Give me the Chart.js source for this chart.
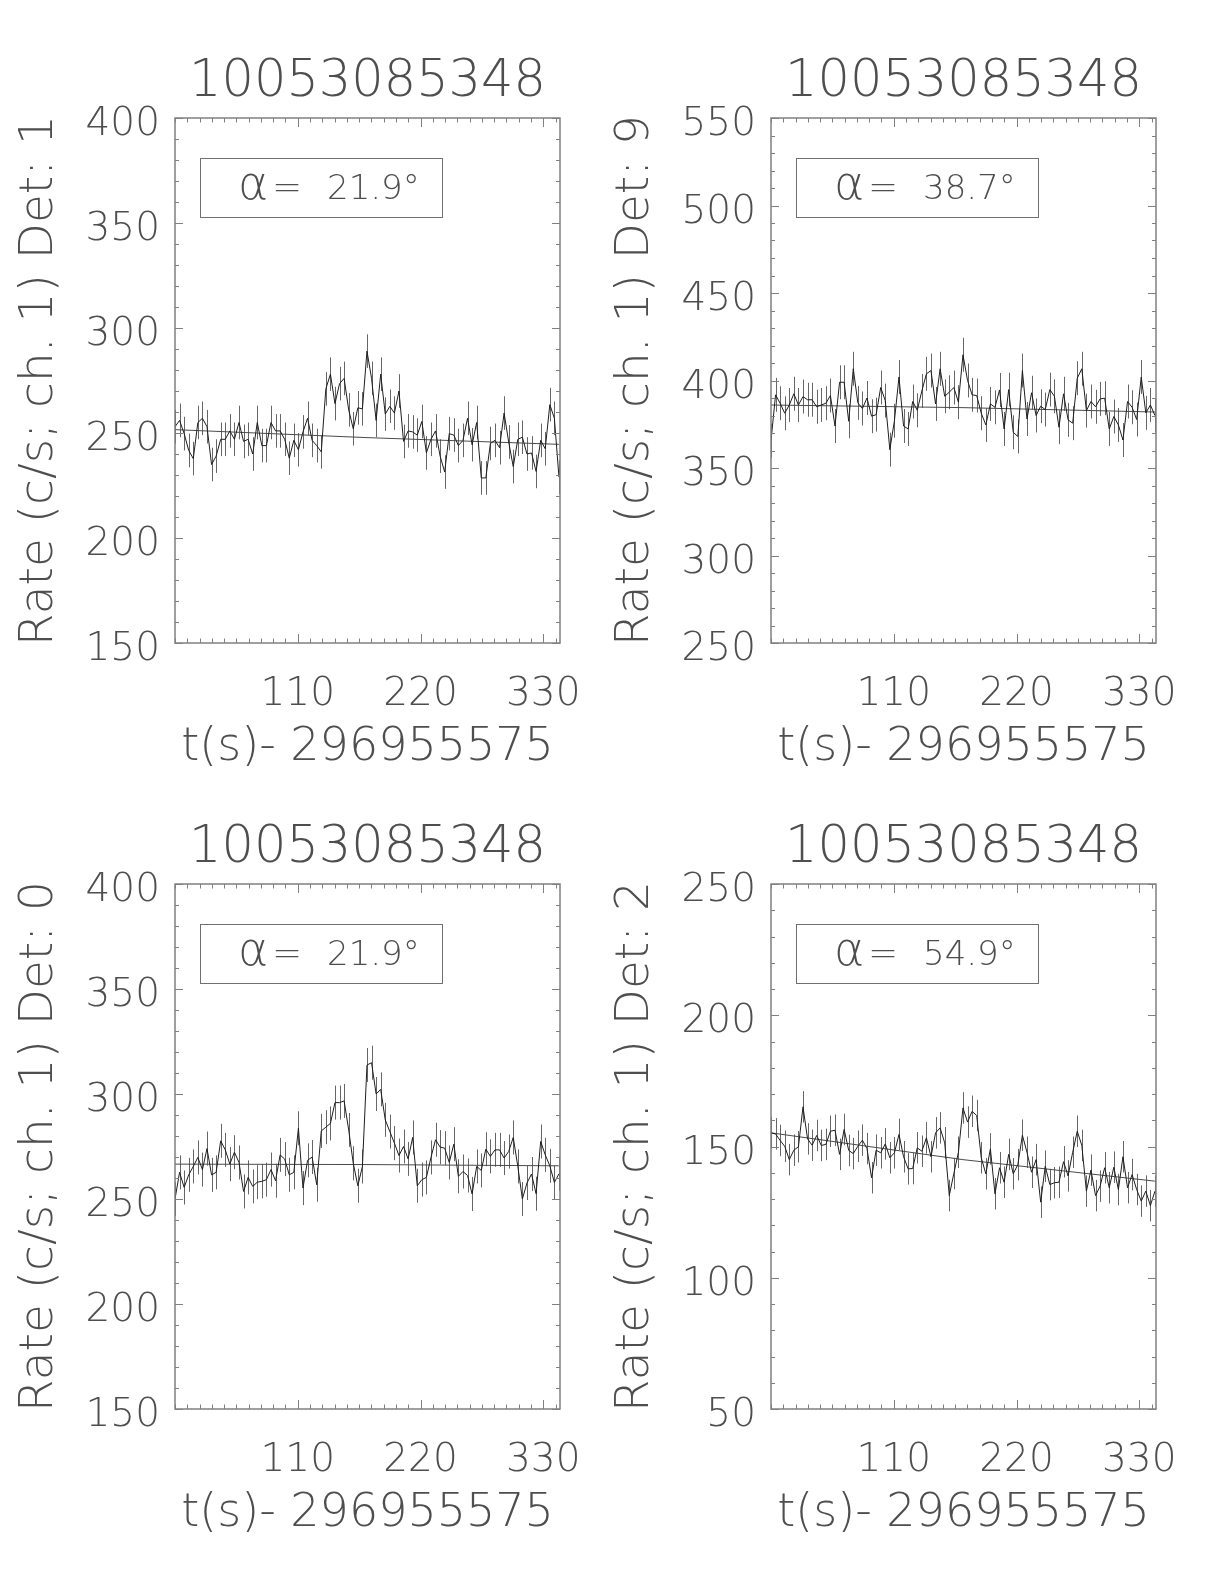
<!DOCTYPE html>
<html>
<head>
<meta charset="utf-8">
<script src="https://cdn.jsdelivr.net/npm/chart.js@4.4.1/dist/chart.umd.min.js"></script>
<style>
  body { margin: 0; background: #fff; }
  #wrap { position: relative; width: 1224px; height: 1584px; }
  canvas { position: absolute; }
</style>
</head>
<body>
<div id="wrap">
  <canvas id="det1" width="600" height="766" style="left:0;top:0"></canvas>
  <canvas id="det9" width="600" height="766" style="left:596px;top:0"></canvas>
  <canvas id="det0" width="600" height="766" style="left:0;top:766px"></canvas>
  <canvas id="det2" width="600" height="766" style="left:596px;top:766px"></canvas>
</div>
<script>
// ---- data ----
var burstName = "10053085348";
var tOffset = "296955575";
var binWidth = 4.096;            // s per bin, 85 bins
var xTickLabels = [110, 220, 330];

var rateDet1 = [253,256,249.7,241.7,237.8,255,257,253,235,239,
  247,247,251,247,255,246,247,240,255,244,
  244,255,251,251,247,238,246.5,242,250.5,257,
  246.5,244,241,271,278,264,273.5,276,261,252,
  262,261.5,289,276,256,278,259,262.7,259.5,270,
  246,251,250.5,249,255.5,240.5,247,251,239,231.4,
  249.7,249,244,246.5,257,244.4,255,228.6,228.6,245,
  246.5,243,259.5,245.7,234,247,248,240,240.5,231.7,
  246.5,242.5,263.5,257,229];
var rateDet9 = [365.6,391.8,387,381.3,386,392.4,386,390.8,389,389,
  385,386,387,391.4,374,399,399,376.7,406.7,387.2,
  384,390,379.6,380.5,396,388.5,360.5,377,402,374,
  372.3,388,383,394,403.8,405.7,386.6,406.7,391,393.3,
  396,387.6,414.7,400,391.8,391.4,381.3,374.6,386.6,384.7,
  394.6,372.3,394.8,370.4,368,405.7,378,393,380,385.3,
  383.4,394.8,391,373.3,392.4,377.5,375.6,401.3,406.7,382.8,
  388,385,389.5,389.9,372.3,379.4,374.6,366,388,384.7,
  377.7,402,381.5,386,380];
var rateDet0 = [250,262.7,255.5,261.5,265.5,269.8,264,274,261.5,262.7,
  277.7,273.4,266.6,272.3,267.4,253.6,260.3,256,258,258.4,
  259.2,264,258.7,271,269,261.5,262.7,283.7,255.2,268.4,
  270,256.8,282.4,284.2,286,295.9,295.9,296.7,282.9,267,
  256.3,265.5,313.8,314.9,300,302.2,287.7,282.1,276.6,270.7,
  275,269.1,279.3,256.3,259.2,260.3,269.8,278.2,274.7,274.2,
  267.4,276.1,260.8,263.1,261.2,252.4,265.5,263.6,273.7,270.3,
  273.4,273.4,269.5,272.6,279.3,265.5,250,257.6,261.9,252.5,
  277.4,271,265.8,257.9,262];
var rateDet2 = [155.2,154.8,152.3,150.1,145,148.6,149.9,165.1,152.9,150.5,
  154.2,150.4,150.8,155.8,156.2,147,156.5,148.5,147.3,150.1,
  152.4,149.2,138.1,148.6,147.6,151,145.7,147.6,154.6,146.1,
  141.5,141.6,149.5,148.2,153.3,146.1,155.2,157.1,151.4,131.3,
  139.7,147.8,164.7,159.3,163.4,161.8,145.7,139.6,149.1,132,
  141.9,136.4,147,139.6,143.1,154.3,147.8,140.2,145,128.8,
  142.5,135.5,136.2,136.4,144.2,138.8,147.8,155.8,150.4,133,
  141,131.3,134.9,141.9,134.3,142.1,133.6,146.1,134.3,139.3,
  133.6,129.2,133,127.5,133];

// background fit, sampled at start / middle / end
var bgTimes = [0, 172, 344];
var bgDet1 = [251.6, 247.8, 244.6];
var bgDet9 = [386, 384.5, 382];
var bgDet0 = [266.6, 266.4, 265.8];
var bgDet2 = [155.2, 145, 136.8];

// half length of the error bars (c/s)
var errDet1 = 8, errDet9 = 9.7, errDet0 = 8.1, errDet2 = 6;

var alphaDet1 = "21.9", alphaDet9 = "38.7", alphaDet0 = "21.9", alphaDet2 = "54.9";
var yRangeDet1 = [150, 400], yRangeDet9 = [250, 550], yRangeDet0 = [150, 400], yRangeDet2 = [50, 250];

// ---- drawing ----
var FONT = '"DejaVu Sans", sans-serif';
var TXT = '#4e4e4e';
var AXIS = '#808080';

var idlPlugin = {
  id: 'idl',
  beforeDatasetsDraw: function (chart, args, opts) {
    var ctx = chart.ctx, a = chart.chartArea, x = chart.scales.x, y = chart.scales.y;
    ctx.save();
    ctx.beginPath();
    ctx.rect(a.left, a.top, a.right - a.left, a.bottom - a.top);
    ctx.clip();
    ctx.strokeStyle = '#666';
    ctx.lineWidth = 1;
    ctx.beginPath();
    chart.data.datasets[0].data.forEach(function (p) {
      var px = Math.round(x.getPixelForValue(p.x)) + 0.5;
      ctx.moveTo(px, y.getPixelForValue(p.y - opts.err));
      ctx.lineTo(px, y.getPixelForValue(p.y + opts.err));
    });
    ctx.stroke();
    ctx.restore();
  },
  afterDraw: function (chart, args, opts) {
    var ctx = chart.ctx, a = chart.chartArea, x = chart.scales.x, y = chart.scales.y;
    ctx.save();
    ctx.strokeStyle = AXIS;
    ctx.lineWidth = 1.5;
    ctx.strokeRect(a.left, a.top, a.right - a.left, a.bottom - a.top);
    ctx.lineWidth = 1;
    ctx.beginPath();
    x.ticks.forEach(function (t) {
      var px = Math.round(x.getPixelForValue(t.value)) + 0.5;
      var len = t.label !== '' ? 9 : 4.5;
      ctx.moveTo(px, a.bottom); ctx.lineTo(px, a.bottom - len);
      ctx.moveTo(px, a.top); ctx.lineTo(px, a.top + len);
    });
    y.ticks.forEach(function (t) {
      var py = Math.round(y.getPixelForValue(t.value)) + 0.5;
      var len = t.label !== '' ? 8 : 4;
      ctx.moveTo(a.left, py); ctx.lineTo(a.left + len, py);
      ctx.moveTo(a.right, py); ctx.lineTo(a.right - len, py);
    });
    ctx.stroke();

    // alpha box
    var bx = a.left + 25, by = a.top + 40;
    ctx.strokeStyle = '#707070';
    ctx.strokeRect(bx + 0.5, by + 0.5, 242, 59);
    ctx.fillStyle = TXT;
    ctx.textBaseline = 'middle';
    ctx.textAlign = 'left';
    ctx.font = '200 46px ' + FONT;
    ctx.fillText('α', bx + 38, by + 29);
    ctx.font = '200 36px ' + FONT;
    ctx.fillText('=', bx + 72, by + 32);
    ctx.font = '200 34px ' + FONT;
    ctx.fillText(opts.alpha + '°', bx + 127, by + 32);
    ctx.restore();
  }
};

function rateChart(id, det, rates, bg, err, alpha, yRange) {
  var pts = rates.map(function (v, i) { return { x: i * binWidth, y: v }; });
  var bgPts = bg.map(function (v, i) { return { x: bgTimes[i], y: v }; });
  new Chart(document.getElementById(id).getContext('2d'), {
    type: 'line',
    data: {
      datasets: [
        { data: pts, borderColor: '#1e1e1e', borderWidth: 1, pointRadius: 0, tension: 0 },
        { data: bgPts, borderColor: '#4a4a4a', borderWidth: 1, pointRadius: 0, tension: 0 }
      ]
    },
    options: {
      responsive: false,
      animation: false,
      layout: { padding: { top: 0, right: 40, left: 0, bottom: 0 } },
      plugins: {
        legend: { display: false },
        tooltip: { enabled: false },
        title: {
          display: true, text: burstName, fullSize: false, color: TXT,
          font: { family: FONT, size: 51, weight: '200', lineHeight: 1 },
          padding: { top: 57, bottom: 10 }
        },
        idl: { err: err, alpha: alpha }
      },
      scales: {
        x: {
          type: 'linear', min: 0, max: 345,
          grid: { display: false, drawTicks: false, tickLength: 0 },
          border: { display: false },
          ticks: {
            stepSize: 11, includeBounds: false, autoSkip: false, maxRotation: 0,
            color: TXT, padding: 28,
            font: { family: FONT, size: 39, weight: '200', lineHeight: 1.2 },
            callback: function (v) { return xTickLabels.indexOf(v) >= 0 ? String(v) : ''; }
          },
          title: {
            display: true, text: 't(s)- ' + tOffset, color: TXT,
            font: { family: FONT, size: 46, weight: '200', lineHeight: 1 },
            padding: { top: 0, bottom: -5 }
          },
          afterFit: function (s) { s.height = 123; }
        },
        y: {
          min: yRange[0], max: yRange[1],
          grid: { display: false, drawTicks: false, tickLength: 0 },
          border: { display: false },
          ticks: {
            stepSize: 10, autoSkip: false, color: TXT, padding: 15, labelOffset: 7,
            font: { family: FONT, size: 39, weight: '200' },
            callback: function (v) { return v % 50 === 0 ? String(v) : ''; }
          },
          title: {
            display: true, text: 'Rate (c/s; ch. 1) Det: ' + det, color: TXT,
            font: { family: FONT, size: 47, weight: '200', lineHeight: 1 },
            padding: { top: 16, bottom: 0 }
          },
          afterFit: function (s) { s.width = 175; }
        }
      }
    },
    plugins: [idlPlugin]
  });
}

rateChart('det1', 1, rateDet1, bgDet1, errDet1, alphaDet1, yRangeDet1);
rateChart('det9', 9, rateDet9, bgDet9, errDet9, alphaDet9, yRangeDet9);
rateChart('det0', 0, rateDet0, bgDet0, errDet0, alphaDet0, yRangeDet0);
rateChart('det2', 2, rateDet2, bgDet2, errDet2, alphaDet2, yRangeDet2);
</script>
</body>
</html>
